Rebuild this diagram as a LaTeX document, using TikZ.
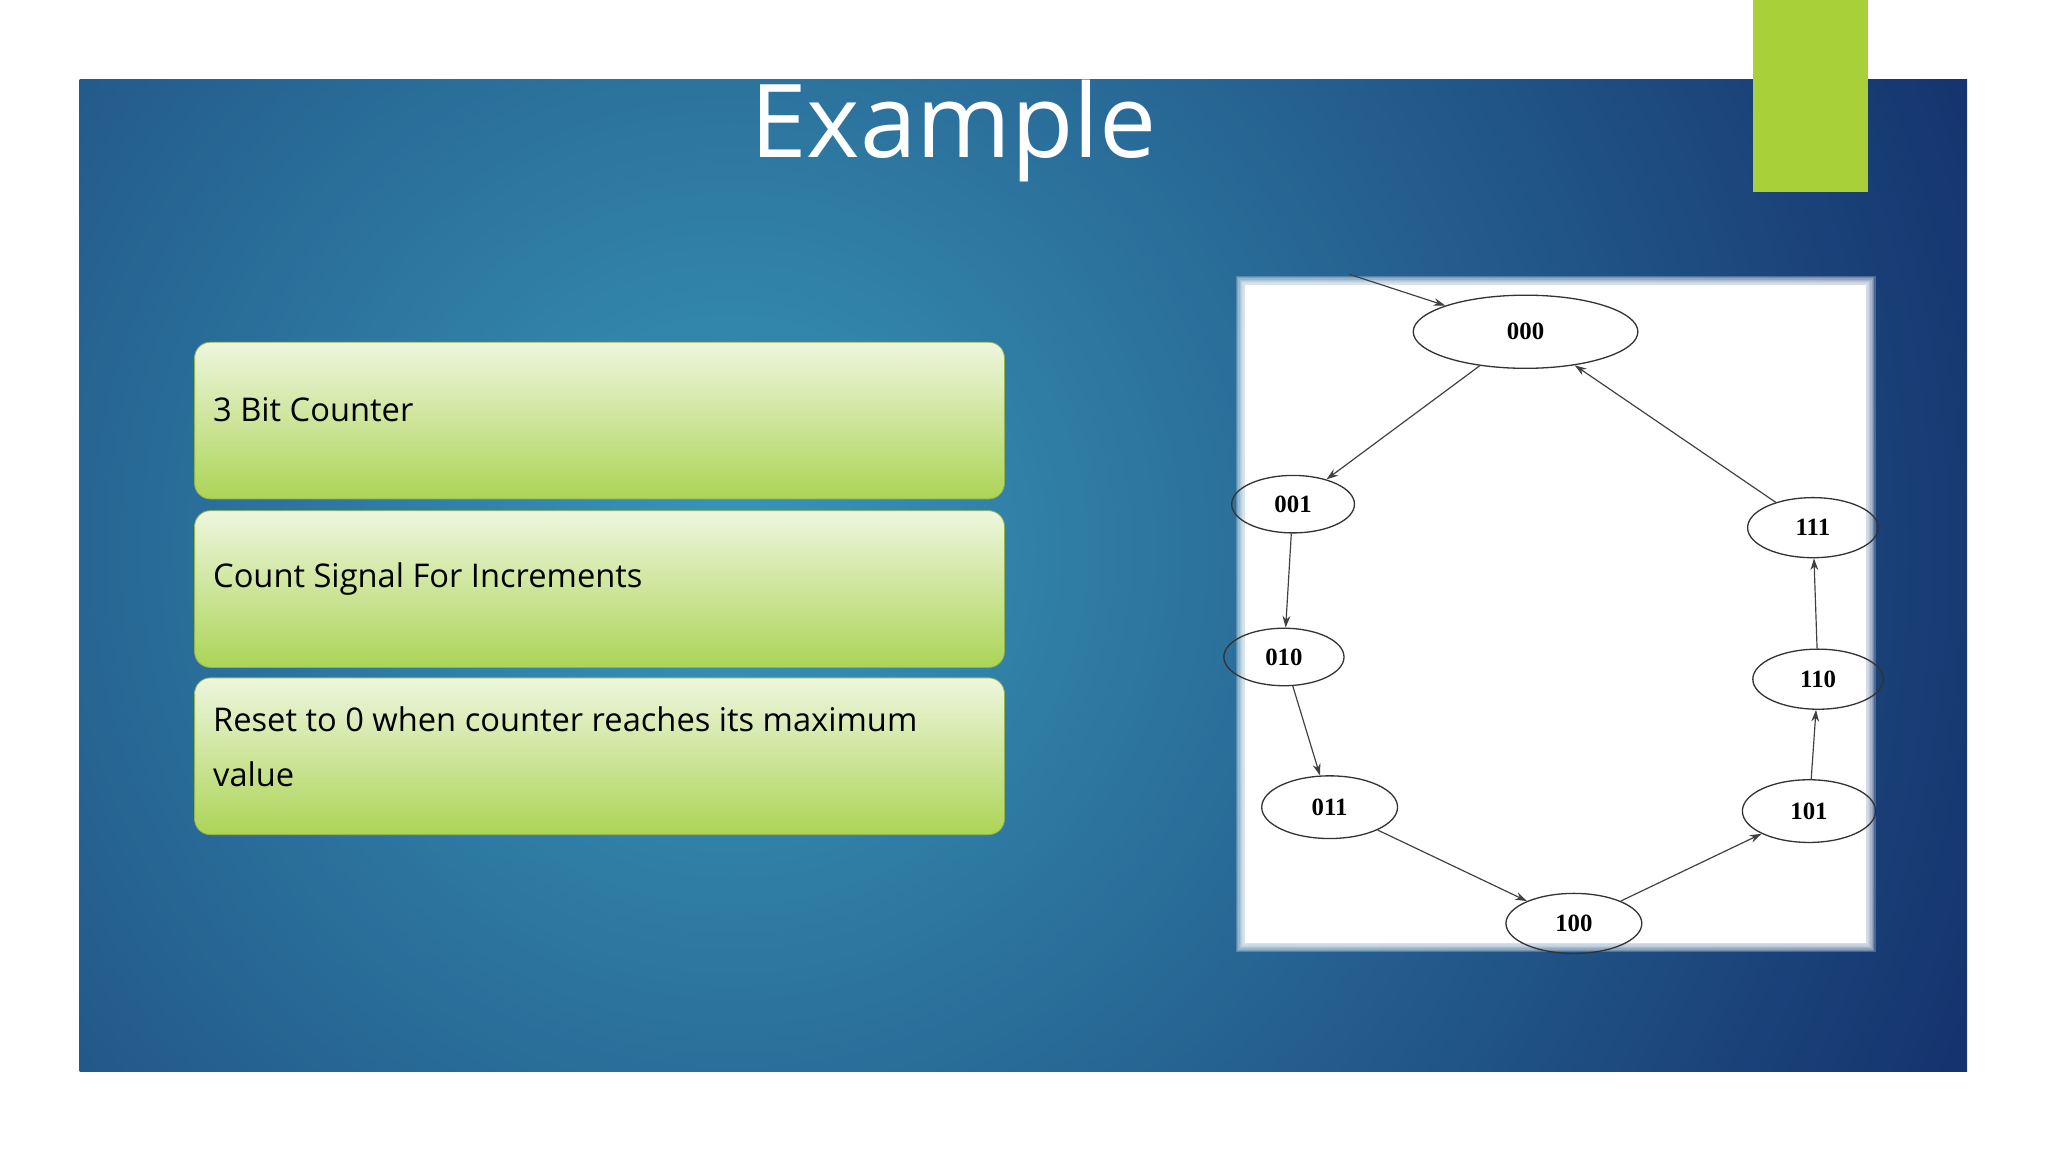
\documentclass[tikz,border=0pt]{standalone}
\usepackage{fontspec}
\setmainfont{Open Sans}
\newfontfamily\lmfont{Liberation Serif}
\usetikzlibrary{arrows.meta,shapes.geometric}
\definecolor{navy}{RGB}{20,48,108}
\definecolor{teal1}{RGB}{56,150,184}
\definecolor{lime}{RGB}{168,208,56}
\definecolor{boxtop}{RGB}{238,246,222}
\definecolor{boxbot}{RGB}{172,212,86}
\tikzset{
 infobox/.style={rounded corners=12pt, top color=boxtop, bottom color=boxbot, draw=boxbot!85!black, line width=0.6pt},
 boxtext/.style={font=\fontsize{25}{42}\selectfont, text=black, anchor=west, align=left, inner sep=0pt},
 st/.style={ellipse, draw=black!80, line width=1pt, font=\lmfont\bfseries\fontsize{19}{20}\selectfont, inner sep=0pt},
 arr/.style={-{Stealth[length=9pt,width=6pt]}, draw=black!75, line width=0.9pt},
}
\begin{document}
\begin{tikzpicture}[x=1pt,y=-1pt]
\useasboundingbox (0,0) rectangle (1568,882);
\fill[white] (0,0) rectangle (1568,882);
\begin{scope}
\clip (61,61) rectangle (1506,820);
\shade[inner color=teal1, outer color=navy] (560,420) circle (1050);
\end{scope}
\fill[lime] (1342,0) rectangle (1430,147);
\node[text=white, font=\fontsize{78}{80}\selectfont] (title) at (730,100) {Example};
\node[infobox, minimum width=620pt, minimum height=120pt] (b1) at (459,322) {};
\node[infobox, minimum width=620pt, minimum height=120pt] (b2) at (459,451) {};
\node[infobox, minimum width=620pt, minimum height=120pt] (b3) at (459,579) {};
\node[boxtext] (t1) at (163,314) {3 Bit Counter};
\node[boxtext] (t2) at (163,443) {Count Signal For Increments};
\node[boxtext] (t3) at (163,572) {Reset to 0 when counter reaches its maximum\\value};
\foreach \i in {0,...,7}{
 \fill[white, opacity=0.22] (953-\i,218-\i) rectangle (1429+\i,722+\i);
}
\fill[white] (953,218) rectangle (1429,722);
\node[st, minimum width=172pt, minimum height=56pt] (s0) at (1168,254) {000};
\node[st, minimum width=94pt, minimum height=44pt] (s1) at (990,386) {001};
\node[st, minimum width=92pt, minimum height=44pt] (s2) at (983,503) {010};
\node[st, minimum width=104pt, minimum height=48pt] (s3) at (1018,618) {011};
\node[st, minimum width=104pt, minimum height=46pt] (s4) at (1205,707) {100};
\node[st, minimum width=102pt, minimum height=48pt] (s5) at (1385,621) {101};
\node[st, minimum width=100pt, minimum height=46pt] (s6) at (1392,520) {110};
\node[st, minimum width=100pt, minimum height=46pt] (s7) at (1388,404) {111};
\coordinate (in) at (1033,210);
\draw[arr] (in) -- (s0);
\draw[arr] (s0) -- (s1);
\draw[arr] (s1) -- (s2);
\draw[arr] (s2) -- (s3);
\draw[arr] (s3) -- (s4);
\draw[arr] (s4) -- (s5);
\draw[arr] (s5) -- (s6);
\draw[arr] (s6) -- (s7);
\draw[arr] (s7) -- (s0);
\end{tikzpicture}
\end{document}
